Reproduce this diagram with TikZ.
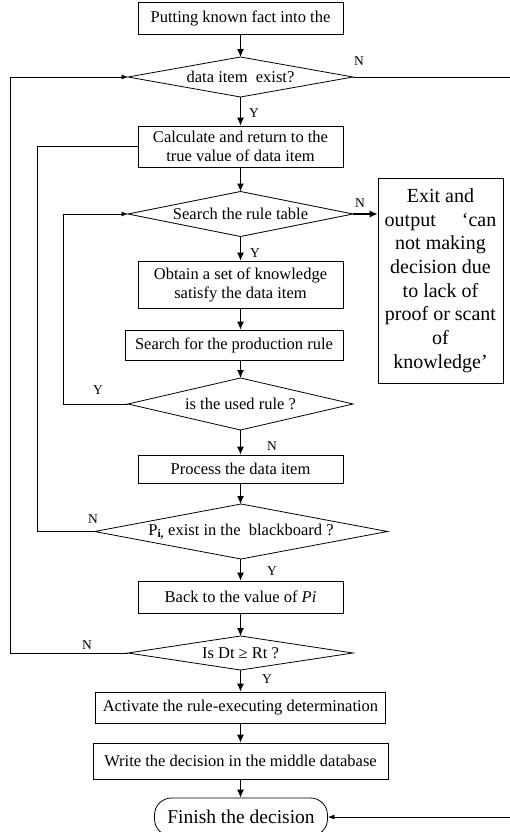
\documentclass[tikz,border=0pt]{standalone}
\usepackage{fontspec}
\setmainfont{Liberation Serif}
\usepackage{tikz}
\usetikzlibrary{shapes}
\usetikzlibrary{arrows.meta}

\tikzset{
  procbox/.style={draw, rectangle, line width=0.8pt, inner sep=2pt, align=center,
    font=\fontsize{16.5}{19}\selectfont},
  decision/.style={draw, diamond, aspect=#1, inner sep=0pt, outer sep=0pt, line width=0.8pt,
    font=\fontsize{16.5}{19}\selectfont},
  terminal/.style={draw, rectangle, rounded corners=17pt, line width=0.8pt,
    font=\fontsize{19.5}{22}\selectfont},
  exitbox/.style={draw, rectangle, line width=0.8pt, align=center,
    font=\fontsize{20}{23.7}\selectfont},
  flowline/.style={line width=1.1pt, >={Latex[length=8pt,width=7pt]}},
  loopline/.style={line width=0.8pt, >={Latex[length=6.5pt,width=5pt]}},
  lbl/.style={font=\fontsize{13.5}{15}\selectfont, inner sep=0pt}
}

\begin{document}
\begin{tikzpicture}[x=1pt,y=-1pt]
  \useasboundingbox (0,0) rectangle (509,832);

  \node[procbox, minimum width=205pt, minimum height=32pt] (put) at (240.5,18) {Putting known fact into the};
  \node[decision=5.6, minimum width=225pt, minimum height=40pt] (exist) at (240.5,77) {data item\ \ exist?};
  \node[procbox, minimum width=205pt, minimum height=41pt] (calc) at (240.5,146.5)
    {Calculate and return to the\\true value of data item};
  \node[decision=5, minimum width=225pt, minimum height=45pt] (rule) at (240.5,214) {Search the rule table};
  \node[procbox, minimum width=205pt, minimum height=47pt] (obtain) at (240.5,284.5)
    {Obtain a set of knowledge\\satisfy the data item};
  \node[procbox, minimum width=218pt, minimum height=30pt] (prod) at (234,345) {Search for the production rule};
  \node[decision=4.33, minimum width=225pt, minimum height=52pt] (used) at (240.5,404) {is the used rule ?};
  \node[procbox, minimum width=205pt, minimum height=28pt] (process) at (240.5,469) {Process the data item};
  \node[decision=5.33, minimum width=293pt, minimum height=55pt] (pi) at (241,531.5)
    {P\textsubscript{\textbf{i,}} exist in the\ \ blackboard ?};
  \node[procbox, minimum width=205pt, minimum height=32pt] (back) at (240.5,597) {Back to the value of \textit{Pi}};
  \node[decision=6.6, minimum width=225pt, minimum height=34pt] (dt) at (240.5,653) {Is Dt ≥ Rt ?};
  \node[procbox, minimum width=290pt, minimum height=31pt] (activate) at (240.5,707.5)
    {Activate the rule-executing determination};
  \node[procbox, minimum width=295pt, minimum height=36pt] (write) at (240.5,761)
    {Write the decision in the middle database};
  \node[terminal, minimum width=173pt, minimum height=38pt] (finish) at (241,817) {Finish the decision};
  \node[exitbox, minimum width=125pt, minimum height=205pt] (exit) at (440.5,280.5)
    {Exit and\\output\hspace{1.3em}‘can\\not making\\decision due\\to lack of\\proof or scant\\of\\knowledge’};

  % main column
  \draw[flowline,->] (put) -- (exist);
  \draw[flowline,->] (exist) -- (calc);
  \draw[flowline,->] (calc) -- (rule);
  \draw[flowline,->] (rule) -- (obtain);
  \draw[flowline,->] (obtain.south) -- (obtain.south |- prod.north);
  \draw[flowline,->] (prod.south -| used.north) -- (used.north);
  \draw[flowline,->] (used) -- (process);
  \draw[flowline,->] (process.south) -- (process.south |- pi.north);
  \draw[flowline,->] (back.north |- pi.south) -- (back.north);
  \draw[flowline,->] (back) -- (dt);
  \draw[flowline,->] (dt) -- (activate);
  \draw[flowline,->] (activate) -- (write);
  \draw[flowline,->] (write.south) -- (write.south |- finish.north);
  \draw[flowline,->] (rule.east) -- (rule.east -| exit.west);

  % loops back
  \draw[loopline,->] (used.west) -- ++(-65,0) |- (rule.west);
  \draw[loopline] (pi.west) -- ++(-57,0) |- (calc.west);
  \draw[loopline,->] (dt.west) -- ++(-118,0) |- (exist.west);
  \draw[loopline,->] (exist.east) -- ++(162,0) |- (finish.east);

  % branch labels
  \node[lbl] (nExist) at (359,61) {N};
  \node[lbl] (yExist) at (254,113) {Y};
  \node[lbl] (nRule) at (360,203) {N};
  \node[lbl] (yRule) at (255,253) {Y};
  \node[lbl] (yUsed) at (98,390) {Y};
  \node[lbl] (nUsed) at (272,446) {N};
  \node[lbl] (nPi) at (93,519) {N};
  \node[lbl] (yPi) at (272,571) {Y};
  \node[lbl] (nDt) at (87,645) {N};
  \node[lbl] (yDt) at (267,679) {Y};
\end{tikzpicture}
\end{document}
